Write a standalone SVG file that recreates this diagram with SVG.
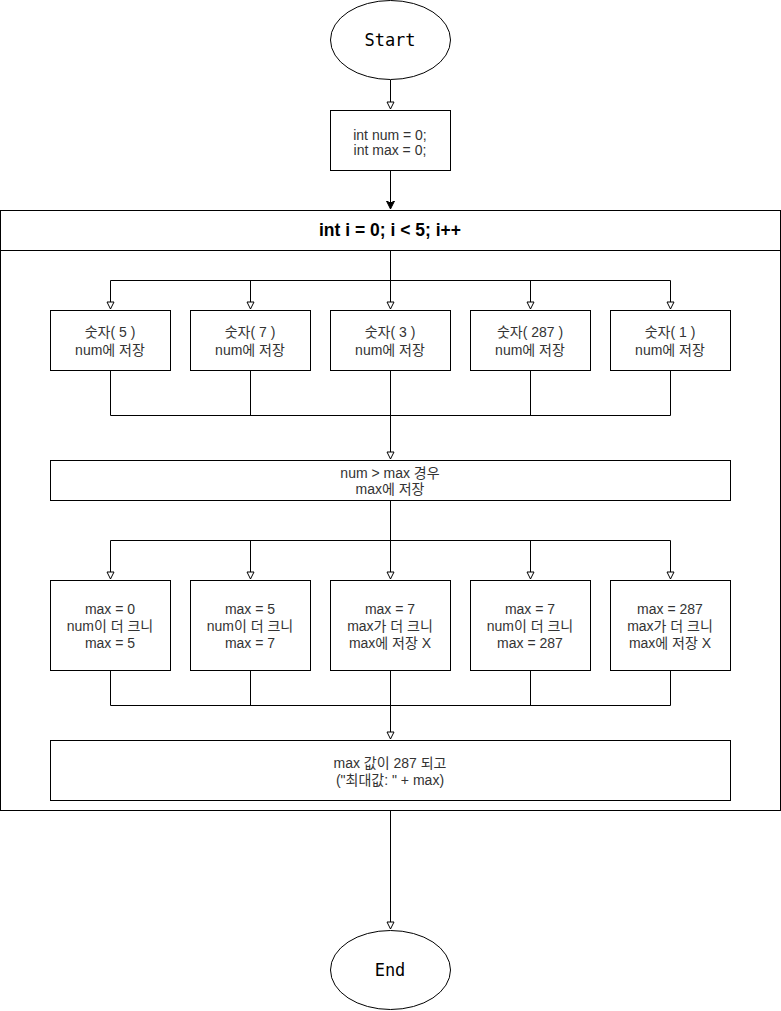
<svg xmlns="http://www.w3.org/2000/svg" width="781" height="1011" viewBox="0 0 781 1011">
<style>
.s{fill:#fff;stroke:#000;stroke-width:1}
.c{fill:none;stroke:#000;stroke-width:1}
.t{font-family:"Liberation Sans","Noto Sans CJK KR",Arial,sans-serif;font-size:14px;fill:#333;text-anchor:middle}
.m{font-family:"DejaVu Sans Mono","Liberation Mono",monospace;font-size:17px;fill:#000;text-anchor:middle}
.b{font-family:"Liberation Sans",Arial,sans-serif;font-size:17.5px;font-weight:bold;fill:#000;text-anchor:middle}
</style>
<defs>
<marker id="o" markerWidth="10" markerHeight="10" refX="8" refY="4" orient="auto" markerUnits="userSpaceOnUse">
<path d="M1,0.5 L8,4 L1,7.5 Z" fill="#fff" stroke="#000" stroke-width="1"/>
</marker>
<marker id="f" markerWidth="10" markerHeight="10" refX="8" refY="4" orient="auto" markerUnits="userSpaceOnUse">
<path d="M0,0 L8,4 L0,8 L2,4 Z" fill="#000" stroke="#000" stroke-width="1"/>
</marker>
</defs>
<rect width="781" height="1011" fill="#fff"/>

<g id="loop">
<rect class="s" x="0.5" y="210.5" width="780" height="600"/>
<line class="c" x1="0.5" y1="250.5" x2="780.5" y2="250.5"/>
<text class="b" x="390" y="236">int i = 0; i &lt; 5; i++</text>
</g>

<g id="connectors">
<line class="c" x1="390.5" y1="80" x2="390.5" y2="109" marker-end="url(#o)"/>
<line class="c" x1="390.5" y1="170" x2="390.5" y2="209" marker-end="url(#f)"/>
<polyline class="c" points="390.5,250.5 390.5,280.5"/>
<line class="c" x1="110.5" y1="280.5" x2="670.5" y2="280.5"/>
<line class="c" x1="110.5" y1="280.5" x2="110.5" y2="309" marker-end="url(#o)"/>
<line class="c" x1="250.5" y1="280.5" x2="250.5" y2="309" marker-end="url(#o)"/>
<line class="c" x1="390.5" y1="280.5" x2="390.5" y2="309" marker-end="url(#o)"/>
<line class="c" x1="530.5" y1="280.5" x2="530.5" y2="309" marker-end="url(#o)"/>
<line class="c" x1="670.5" y1="280.5" x2="670.5" y2="309" marker-end="url(#o)"/>
<polyline class="c" points="110.5,370.5 110.5,415.5 670.5,415.5 670.5,370.5"/>
<line class="c" x1="250.5" y1="370.5" x2="250.5" y2="415.5"/>
<line class="c" x1="530.5" y1="370.5" x2="530.5" y2="415.5"/>
<line class="c" x1="390.5" y1="370.5" x2="390.5" y2="459" marker-end="url(#o)"/>
<line class="c" x1="390.5" y1="500.5" x2="390.5" y2="540.5"/>
<line class="c" x1="110.5" y1="540.5" x2="670.5" y2="540.5"/>
<line class="c" x1="110.5" y1="540.5" x2="110.5" y2="579" marker-end="url(#o)"/>
<line class="c" x1="250.5" y1="540.5" x2="250.5" y2="579" marker-end="url(#o)"/>
<line class="c" x1="390.5" y1="540.5" x2="390.5" y2="579" marker-end="url(#o)"/>
<line class="c" x1="530.5" y1="540.5" x2="530.5" y2="579" marker-end="url(#o)"/>
<line class="c" x1="670.5" y1="540.5" x2="670.5" y2="579" marker-end="url(#o)"/>
<polyline class="c" points="110.5,670.5 110.5,705.5 670.5,705.5 670.5,670.5"/>
<line class="c" x1="250.5" y1="670.5" x2="250.5" y2="705.5"/>
<line class="c" x1="530.5" y1="670.5" x2="530.5" y2="705.5"/>
<line class="c" x1="390.5" y1="670.5" x2="390.5" y2="739" marker-end="url(#o)"/>
<line class="c" x1="390.5" y1="810.5" x2="390.5" y2="929" marker-end="url(#o)"/>
</g>

<g id="start">
<ellipse class="s" cx="390.5" cy="40" rx="60" ry="39.5"/>
<text class="m" x="390" y="46">Start</text>
</g>

<g id="init">
<rect class="s" x="330.5" y="110.5" width="120" height="60"/>
<text class="t" x="390" y="140">int num = 0;</text>
<text class="t" x="390" y="155">int max = 0;</text>
</g>

<g id="in1">
<rect class="s" x="50.5" y="310.5" width="120" height="60"/>
<text class="t" x="110" y="337">숫자( 5 )</text>
<text class="t" x="110" y="355">num에 저장</text>
</g>
<g id="in2">
<rect class="s" x="190.5" y="310.5" width="120" height="60"/>
<text class="t" x="250" y="337">숫자( 7 )</text>
<text class="t" x="250" y="355">num에 저장</text>
</g>
<g id="in3">
<rect class="s" x="330.5" y="310.5" width="120" height="60"/>
<text class="t" x="390" y="337">숫자( 3 )</text>
<text class="t" x="390" y="355">num에 저장</text>
</g>
<g id="in4">
<rect class="s" x="470.5" y="310.5" width="120" height="60"/>
<text class="t" x="530" y="337">숫자( 287 )</text>
<text class="t" x="530" y="355">num에 저장</text>
</g>
<g id="in5">
<rect class="s" x="610.5" y="310.5" width="120" height="60"/>
<text class="t" x="670" y="337">숫자( 1 )</text>
<text class="t" x="670" y="355">num에 저장</text>
</g>

<g id="compare">
<rect class="s" x="50.5" y="460.5" width="680" height="40"/>
<text class="t" x="390" y="478">num &gt; max 경우</text>
<text class="t" x="390" y="494">max에 저장</text>
</g>

<g id="r1">
<rect class="s" x="50.5" y="580.5" width="120" height="90"/>
<text class="t" x="110" y="614">max = 0</text>
<text class="t" x="110" y="631">num이 더 크니</text>
<text class="t" x="110" y="648">max = 5</text>
</g>
<g id="r2">
<rect class="s" x="190.5" y="580.5" width="120" height="90"/>
<text class="t" x="250" y="614">max = 5</text>
<text class="t" x="250" y="631">num이 더 크니</text>
<text class="t" x="250" y="648">max = 7</text>
</g>
<g id="r3">
<rect class="s" x="330.5" y="580.5" width="120" height="90"/>
<text class="t" x="390" y="614">max = 7</text>
<text class="t" x="390" y="631">max가 더 크니</text>
<text class="t" x="390" y="648">max에 저장 X</text>
</g>
<g id="r4">
<rect class="s" x="470.5" y="580.5" width="120" height="90"/>
<text class="t" x="530" y="614">max = 7</text>
<text class="t" x="530" y="631">num이 더 크니</text>
<text class="t" x="530" y="648">max = 287</text>
</g>
<g id="r5">
<rect class="s" x="610.5" y="580.5" width="120" height="90"/>
<text class="t" x="670" y="614">max = 287</text>
<text class="t" x="670" y="631">max가 더 크니</text>
<text class="t" x="670" y="648">max에 저장 X</text>
</g>

<g id="result">
<rect class="s" x="50.5" y="740.5" width="680" height="60"/>
<text class="t" x="390" y="768">max 값이 287 되고</text>
<text class="t" x="390" y="785">("최대값: " + max)</text>
</g>

<g id="end">
<ellipse class="s" cx="390.5" cy="970" rx="60" ry="39.5"/>
<text class="m" x="390" y="976">End</text>
</g>
</svg>
